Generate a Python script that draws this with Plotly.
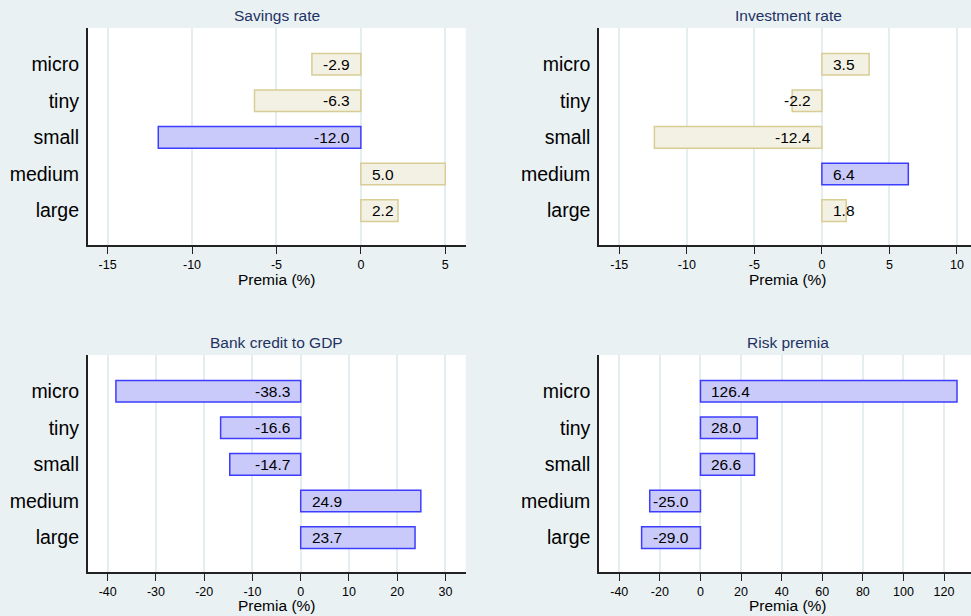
import plotly.graph_objects as go

categories = ["micro", "tiny", "small", "medium", "large"]

panel_titles = ["Savings rate", "Investment rate", "Bank credit to GDP", "Risk premia"]

savings_rate = [-2.9, -6.3, -12.0, 5.0, 2.2]
investment_rate = [3.5, -2.2, -12.4, 6.4, 1.8]
bank_credit_gdp = [-38.3, -16.6, -14.7, 24.9, 23.7]
risk_premia = [126.4, 28.0, 26.6, -25.0, -29.0]

# highlighted (blue) bars
savings_sig = [False, False, True, False, False]
investment_sig = [False, False, False, True, False]
bank_sig = [True, True, True, True, True]
risk_sig = [True, True, True, True, True]

savings_ticks = [-15, -10, -5, 0, 5]
investment_ticks = [-15, -10, -5, 0, 5, 10]
bank_ticks = [-40, -30, -20, -10, 0, 10, 20, 30]
risk_ticks = [-40, -20, 0, 20, 40, 60, 80, 100, 120]

x_label = "Premia (%)"

values = [savings_rate, investment_rate, bank_credit_gdp, risk_premia]
sigs = [savings_sig, investment_sig, bank_sig, risk_sig]
ticks = [savings_ticks, investment_ticks, bank_ticks, risk_ticks]
x_ranges = [[-16.18, 6.21], [-16.5, 11.04], [-44.15, 34.2], [-50.0, 133.3]]

W, H = 971, 616
x_domains = [[87.7 / W, 465.7 / W], [599 / W, 1.0]]
y_domains = [[1 - 245 / H, 1 - 28 / H], [1 - 572 / H, 1 - 355 / H]]
title_y = [1 - 15.7 / H, 1 - 342 / H]
axis_title_y = [1 - 279 / H, 1 - 605.5 / H]
# centre of each column's plot area (right column extends past the window)
col_centres = [(87.7 + 465.7) / 2 / W, (599 + 977.5) / 2 / W]

BLUE_FILL, BLUE_LINE = "#c9c9fa", "#3d3dff"
BEIGE_FILL, BEIGE_LINE = "#f3f1e4", "#d8cd95"
FONT = "Liberation Sans, Arial, sans-serif"

fig = go.Figure()
annotations = []
for i in range(4):
    row, col = divmod(i, 2)
    suffix = "" if i == 0 else str(i + 1)
    xa, ya = "x" + suffix, "y" + suffix
    vals = values[i]
    fills = [BLUE_FILL if s else BEIGE_FILL for s in sigs[i]]
    lines = [BLUE_LINE if s else BEIGE_LINE for s in sigs[i]]
    fig.add_trace(go.Bar(
        x=vals, y=categories, orientation="h", width=0.59,
        marker=dict(color=fills, line=dict(color=lines, width=1.5)),
        xaxis=xa, yaxis=ya, showlegend=False, hoverinfo="x+y",
    ))
    for c, v in zip(categories, vals):
        annotations.append(dict(
            x=0, y=c, xref=xa, yref=ya, text=f"{v:.1f}", showarrow=False,
            xanchor="right" if v < 0 else "left", yanchor="middle",
            xshift=-9 if v < 0 else 9,
            font=dict(family=FONT, size=15.5, color="#000000"),
        ))
    xd = x_domains[col]
    annotations.append(dict(
        x=col_centres[col], y=title_y[row], xref="paper", yref="paper",
        text=panel_titles[i], showarrow=False, xanchor="center", yanchor="middle",
        font=dict(family=FONT, size=15.5, color="#1e3264"),
    ))
    annotations.append(dict(
        x=col_centres[col], y=axis_title_y[row], xref="paper", yref="paper",
        text=x_label, showarrow=False, xanchor="center", yanchor="middle",
        font=dict(family=FONT, size=15.5, color="#000000"),
    ))
    xkey = "xaxis" + suffix
    ykey = "yaxis" + suffix
    fig.update_layout(**{
        xkey: dict(
            domain=xd, anchor=ya, range=x_ranges[i],
            tickmode="array", tickvals=ticks[i], ticktext=[str(t) for t in ticks[i]],
            showgrid=True, gridcolor="#e4eef0", gridwidth=1.5,
            zeroline=False, showline=True, linecolor="#222222", linewidth=1.5,
            ticks="outside", ticklen=7, tickwidth=1.2, tickcolor="#222222",
            tickfont=dict(family=FONT, size=12.5, color="#000000"),
        ),
        ykey: dict(
            domain=y_domains[row], anchor=xa, type="category",
            categoryorder="array", categoryarray=categories,
            range=[4.94, -0.99],
            showgrid=False, zeroline=False, showline=True,
            linecolor="#222222", linewidth=1.5, ticks="",
            tickfont=dict(family=FONT, size=19.5, color="#000000"),
            ticklabelstandoff=3,
        ),
    })

fig.update_layout(
    width=W, height=H,
    margin=dict(l=0, r=0, t=0, b=0),
    paper_bgcolor="#eaf1f3", plot_bgcolor="#ffffff",
    annotations=annotations, bargap=0.4,
)

fig.write_html(
    "out.html",
    config={"displayModeBar": False},
    post_script="document.body.style.margin='0';document.body.style.overflow='hidden';",
)
